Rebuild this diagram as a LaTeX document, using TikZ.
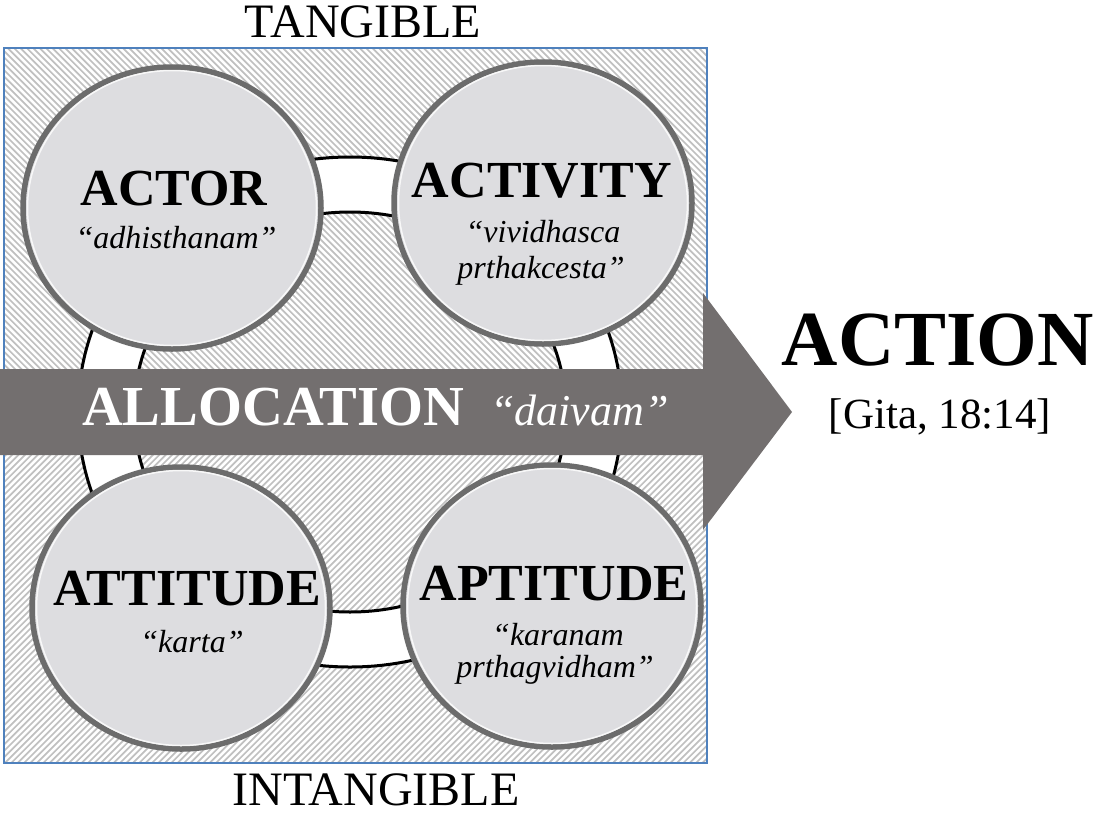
\documentclass[tikz,border=0pt]{standalone}
\usepackage{fontspec}
\setmainfont{Liberation Serif}
\usetikzlibrary{shapes.geometric}
\definecolor{arrowgray}{RGB}{115,111,111}
\definecolor{boxblue}{RGB}{79,129,189}
\definecolor{hatchgray}{RGB}{192,192,192}
\definecolor{discfill}{RGB}{221,221,224}
\definecolor{discrim}{RGB}{108,108,108}
\tikzset{
  disc/.style={ellipse, minimum width=298pt, minimum height=282pt, inner sep=0pt,
    fill=discfill, draw=discrim, line width=5.5pt},
  title/.style={anchor=base, font=\fontsize{52}{60}\selectfont\bfseries, text=black, inner sep=0pt},
  sub/.style={anchor=base, font=\fontsize{32}{38}\selectfont\itshape, text=black, inner sep=0pt},
  side/.style={anchor=base, font=\fontsize{48}{56}\selectfont, text=black, inner sep=0pt},
  hatch/.style={draw=hatchgray, line width=1.7pt},
}
\begin{document}
\begin{tikzpicture}[x=1pt,y=-1pt]
\useasboundingbox (0,0) rectangle (1100,825);
% hatched box
\begin{scope}
  \clip (4,48) rectangle (707,412);
  \foreach \x in {-370,-363.6,...,712} { \draw[hatch] (\x,48) -- ++(364,364); }
\end{scope}
\begin{scope}
  \clip (4,412) rectangle (707,763);
  \foreach \x in {-360,-353.6,...,712} { \draw[hatch] (\x,763) -- ++(351,-351); }
\end{scope}
\draw[boxblue, line width=1.2pt] (4,48) rectangle (707,763);
% ring
\fill[white, even odd rule] (350,412) ellipse [x radius=272, y radius=255]
  (350,412) ellipse [x radius=216, y radius=200];
\draw[black, line width=3pt] (350,412) ellipse [x radius=272, y radius=255];
\draw[black, line width=3pt] (350,412) ellipse [x radius=216, y radius=200];
% discs
\node[disc] (actor) at (172,208) {};
\node[disc] (activity) at (543,203) {};
\node[disc] (attitude) at (181,608) {};
\node[disc] (aptitude) at (552,606) {};
\foreach \n in {actor,activity,attitude,aptitude} {
  \draw[white, line width=1.5pt, opacity=0.8] (\n.center) ellipse [x radius=144.5, y radius=137.5];
}
% arrow
\fill[arrowgray] (0,369) -- (703,369) -- (703,293) -- (792,412) -- (703,530) -- (703,455) -- (0,455) -- cycle;
% texts
\node[side] (tangible) at (363,37) {TANGIBLE};
\node[side] (intangible) at (376,805) {INTANGIBLE};
\node[title] (tactor) at (174,205) {ACTOR};
\node[sub] (sactor) at (176,248) {“adhisthanam”};
\node[title] (tactivity) at (542,197) {ACTIVITY};
\node[sub] (sactivity1) at (543,242) {“vividhasca};
\node[sub] (sactivity2) at (541,278) {prthakcesta”};
\node[title] (tattitude) at (187,605) {ATTITUDE};
\node[sub] (sattitude) at (192,652) {“karta”};
\node[title] (taptitude) at (554,600) {APTITUDE};
\node[sub] (saptitude1) at (558,645) {“karanam};
\node[sub] (saptitude2) at (555,677) {prthagvidham”};
\node[anchor=base west, inner sep=0pt, text=white, font=\fontsize{56.5}{60}\selectfont\bfseries] (alloc) at (82,425) {ALLOCATION};
\node[anchor=base west, inner sep=0pt, text=white, font=\fontsize{44}{50}\selectfont\itshape] (daivam) at (490,425) {“daivam”};
\node[anchor=base, inner sep=0pt, font=\fontsize{78}{84}\selectfont\bfseries] (action) at (938,365) {ACTION};
\node[anchor=base, inner sep=0pt, font=\fontsize{43}{50}\selectfont] (gita) at (940,428) {[Gita, 18:14]};
\end{tikzpicture}
\end{document}
